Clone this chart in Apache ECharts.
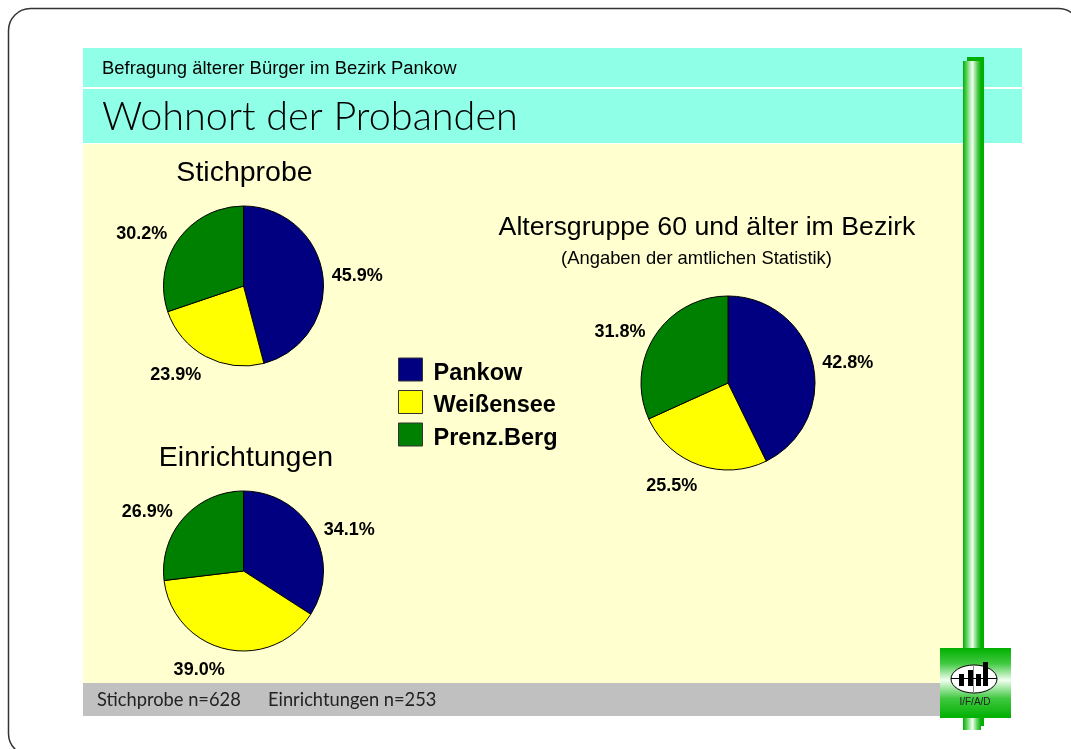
<!DOCTYPE html>
<html><head><meta charset="utf-8">
<style>html,body{margin:0;padding:0;background:#fff}#c{width:1071px;height:749px}</style>
<script src="https://cdn.jsdelivr.net/npm/echarts@6/dist/echarts.min.js"></script>
</head><body><div id="c"></div>
<script>
const categories = ['Pankow', 'Weißensee', 'Prenz.Berg'];
const colors = ['#000080', '#ffff00', '#008000'];
const stichprobe = [45.9, 23.9, 30.2];
const einrichtungen = [34.1, 39.0, 26.9];
const altersgruppe = [42.8, 25.5, 31.8];
const sans = '"Liberation Sans", Arial, sans-serif';
const serif = 'Lato, "Open Sans", sans-serif';

function pie(values, cx, cy, r, offs) {
  return {
    type: 'pie', center: [cx, cy], radius: [0, r], startAngle: 90, clockwise: true,
    animation: false, silent: true,
    itemStyle: { borderColor: '#000', borderWidth: 1 },
    label: { show: true, position: 'outside', formatter: p => p.value.toFixed(1) + '%',
      fontFamily: sans, fontSize: 18, fontWeight: 'bold', color: '#000' },
    labelLine: { show: false, length: 4, length2: 0 },
    labelLayout: p => ({ dx: offs[p.dataIndex][0], dy: offs[p.dataIndex][1] }),
    data: categories.map((n, i) => ({ name: n, value: values[i], itemStyle: { color: colors[i] } }))
  };
}
function rect(x, y, w, h, fill, z) { return { type: 'rect', shape: { x, y, width: w, height: h }, style: { fill }, silent: true, z: z || 0 }; }
function txt(x, y, text, font, size, color, extra) {
  return { type: 'text', x, y, z: 5, style: Object.assign({ text, fontFamily: font, fontSize: size, fill: color || '#000', textVerticalAlign: 'middle' }, extra || {}) };
}
const hGrad = { type: 'linear', x: 0, y: 0, x2: 1, y2: 0, colorStops: [
  { offset: 0, color: '#00b000' }, { offset: 0.25, color: '#70d870' }, { offset: 0.52, color: '#f0fff0' },
  { offset: 0.78, color: '#60d060' }, { offset: 1, color: '#00b000' }] };
const vGrad = { type: 'linear', x: 0, y: 0, x2: 0, y2: 1, colorStops: [
  { offset: 0, color: '#00b000' }, { offset: 0.22, color: '#40c840' }, { offset: 0.46, color: '#f0fff0' },
  { offset: 0.72, color: '#40c840' }, { offset: 1, color: '#00b000' }] };

const graphic = [
  { type: 'rect', shape: { x: 8.5, y: 8.5, width: 1072, height: 747, r: 22 }, style: { fill: '#fff', stroke: '#333', lineWidth: 1.5 }, silent: true, z: 0 },
  rect(83, 144, 880, 539, '#ffffd0', 1),
  rect(83, 48, 939, 39, '#90ffe8', 1),
  rect(83, 89, 939, 54, '#90ffe8', 1),
  rect(83, 683, 880, 33, '#c0c0c0', 1),
  rect(967, 57, 17, 669, '#00b000', 2),
  { type: 'rect', shape: { x: 963, y: 61, width: 18, height: 669 }, style: { fill: hGrad }, silent: true, z: 3 },
  { type: 'rect', shape: { x: 940, y: 648, width: 71, height: 70 }, style: { fill: vGrad }, silent: true, z: 4 },
  { type: 'ellipse', shape: { cx: 974, cy: 679, rx: 23, ry: 14 }, style: { fill: '#fff', stroke: '#000', lineWidth: 1 }, z: 5, silent: true },
  { type: 'line', shape: { x1: 973.5, y1: 665, x2: 973.5, y2: 693 }, style: { stroke: '#888', lineWidth: 1 }, z: 5, silent: true },
  { type: 'line', shape: { x1: 951, y1: 678.5, x2: 997, y2: 678.5 }, style: { stroke: '#000', lineWidth: 1 }, z: 5, silent: true },
  rect(959, 674, 5, 12, '#000', 6), rect(968, 670, 5, 16, '#000', 6), rect(976, 674, 5, 12, '#000', 6), rect(983, 662, 5, 24, '#000', 6),
  txt(975, 702, 'I/F/A/D', sans, 10, '#222', { textAlign: 'center' }),
  txt(102, 69, 'Befragung älterer Bürger im Bezirk Pankow', sans, 18.45),
  txt(102, 117, 'Wohnort der Probanden', serif, 39.6, '#000', { fontWeight: 300 }),
  txt(97, 700, 'Stichprobe n=628', serif, 18.3, '#222'),
  txt(268, 700, 'Einrichtungen n=253', serif, 18.3, '#222'),
  txt(244.5, 173, 'Stichprobe', sans, 28.5, '#000', { textAlign: 'center' }),
  txt(246, 458, 'Einrichtungen', sans, 28.5, '#000', { textAlign: 'center' }),
  txt(707, 228, 'Altersgruppe 60 und älter im Bezirk', sans, 26.7, '#000', { textAlign: 'center' }),
  txt(696.5, 259, '(Angaben der amtlichen Statistik)', sans, 18.4, '#000', { textAlign: 'center' })
];

const option = {
  backgroundColor: '#fff',
  animation: false,
  graphic,
  legend: { show: true, orient: 'vertical', left: 398, top: 353.5, padding: 0, itemWidth: 24, itemHeight: 23, itemGap: 0.5,
    selectedMode: false, icon: 'rect', data: categories,
    formatter: n => '{a|' + n + '}',
    textStyle: { rich: { a: { fontFamily: sans, fontSize: 23.5, fontWeight: 'bold', color: '#000', lineHeight: 17, padding: [8, 0, 0, 6] } } },
    itemStyle: { borderColor: '#333', borderWidth: 1 }, z: 10 },
  series: [
    pie(stichprobe, 243.5, 286, 80, [[0,1],[2.5,15],[-3,-3]]),
    pie(einrichtungen, 243.5, 571, 80, [[1.5,-1],[5,17],[-3,-3]]),
    pie(altersgruppe, 728, 383, 87, [[0.5,1],[5,17],[-1,-2]])
  ]
};
echarts.init(document.getElementById('c'), null, { renderer: 'canvas' }).setOption(option);
</script></body></html>
